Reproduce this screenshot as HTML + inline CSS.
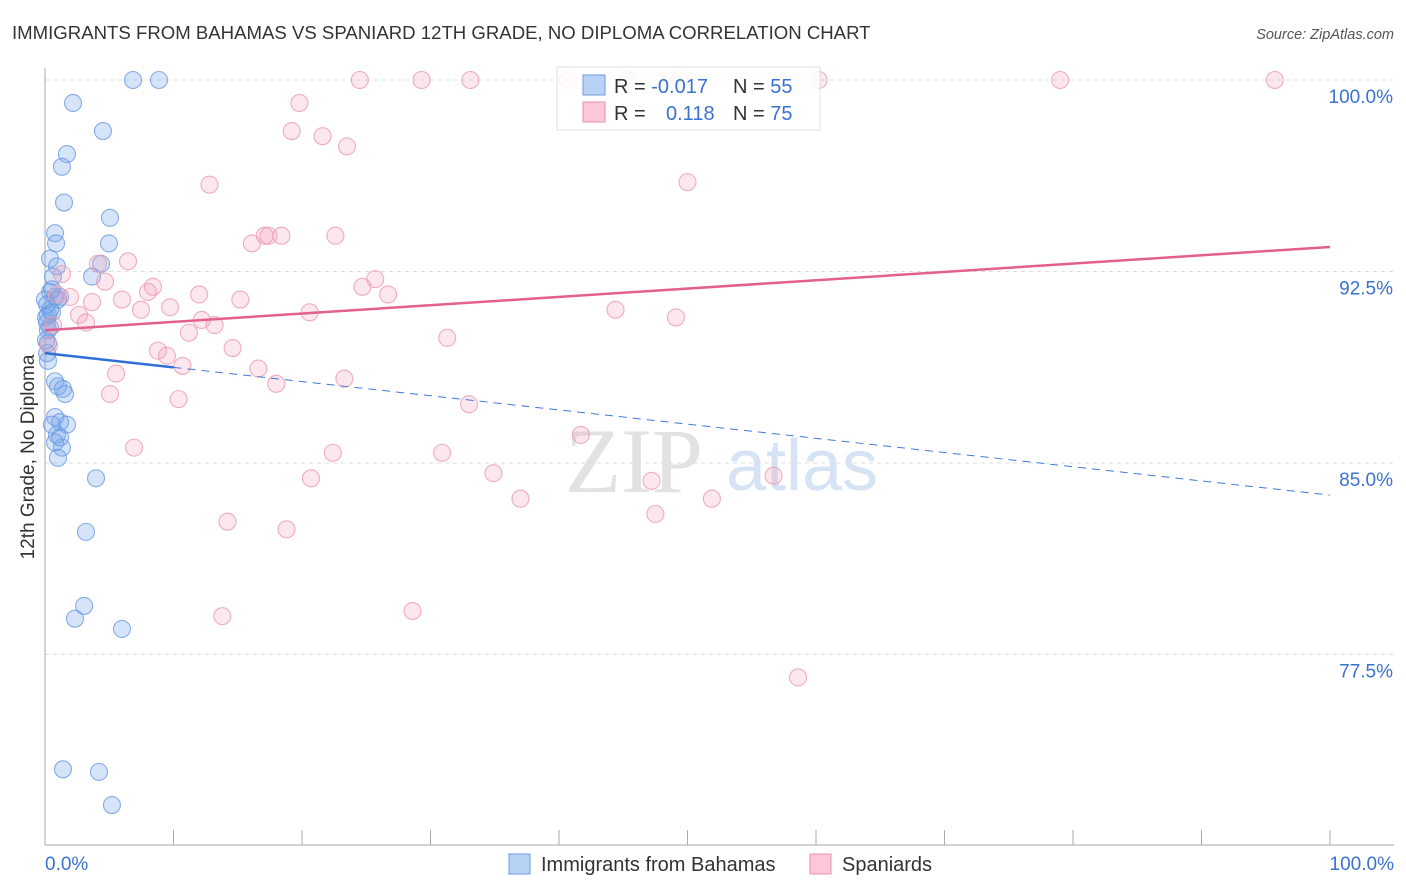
<!DOCTYPE html>
<html><head><meta charset="utf-8"><style>
body{margin:0;background:#fff;font-family:"Liberation Sans",sans-serif;}
svg{display:block}
</style></head><body>
<svg id="chart" width="1406" height="892" viewBox="0 0 1406 892">
<text x="12" y="39" font-size="18.6" fill="#333">IMMIGRANTS FROM BAHAMAS VS SPANIARD 12TH GRADE, NO DIPLOMA CORRELATION CHART</text>
<text x="1394" y="39" font-size="14.5" fill="#555" font-style="italic" text-anchor="end">Source: ZipAtlas.com</text>
<g>
<text x="634" y="492" font-size="92" fill="#e2e2e2" font-family="Liberation Serif,serif" text-anchor="middle">ZIP</text>
<text x="802" y="490" font-size="72" fill="#d6e3f5" text-anchor="middle">atlas</text>
</g>
<g id="grid"></g>
<g id="axes"></g>
<g id="blue"></g>
<g id="pink"></g>
<g id="trends"></g>
<text transform="translate(34,457) rotate(-90)" font-size="19" fill="#333" text-anchor="middle">12th Grade, No Diploma</text>
<text x="45" y="870" font-size="19" fill="#3a72d0">0.0%</text>
<text x="1394" y="870" font-size="19" fill="#3a72d0" text-anchor="end">100.0%</text>
<g>
<rect x="557" y="67" width="263" height="63" fill="#fff" stroke="#ddd" opacity="0.85"/>
<rect x="583" y="75" width="22" height="20" fill="#b8d2f5" stroke="#6b9be0"/>
<rect x="583" y="102" width="22" height="20" fill="#fbc8d8" stroke="#e891ab"/>
<text x="614" y="93" font-size="20" fill="#333">R = <tspan fill="#3a72d0">-0.017</tspan></text>
<text x="733" y="93" font-size="20" fill="#333">N = <tspan fill="#3a72d0">55</tspan></text>
<text x="614" y="120" font-size="20" fill="#333">R = </text>
<text x="666" y="120" font-size="20" fill="#3a72d0">0.118</text>
<text x="733" y="120" font-size="20" fill="#333">N = <tspan fill="#3a72d0">75</tspan></text>
</g>
<g>
<rect x="509" y="854" width="21" height="20" fill="#b8d2f5" stroke="#6b9be0"/>
<text x="541" y="871" font-size="20" fill="#333">Immigrants from Bahamas</text>
<rect x="810" y="854" width="21" height="20" fill="#fbc8d8" stroke="#e891ab"/>
<text x="842" y="871" font-size="20" fill="#333">Spaniards</text>
</g>
</svg>
<script>
const yTicks=[100,92.5,85,77.5];
const yTickLabels=["100.0%","92.5%","85.0%","77.5%"];
const blueX=[6.85,8.87,2.18,4.51,1.71,1.32,1.48,5.06,0.78,0.86,4.98,0.39,0.93,4.36,3.66,0.62,0.39,0.78,1.17,0.39,0.23,0.54,0.16,0.39,0.23,0.23,0.78,1.01,1.56,1.40,0.78,1.17,1.71,0.93,0.78,1.32,1.01,3.97,3.19,3.04,2.33,5.99,1.40,4.20,5.21,0.0,0.16,0.08,0.54,1.01,0.23,1.17,0.54,0.08,0.16];
const blueY=[100,100,99.1,98.0,97.1,96.6,95.2,94.6,94.0,93.6,93.6,93.0,92.7,92.8,92.3,92.3,91.7,91.5,91.5,91.0,90.8,90.9,90.5,90.3,89.7,89.0,88.2,88.0,87.7,87.9,86.8,86.6,86.5,86.1,85.8,85.6,85.2,84.4,82.3,79.4,78.9,78.5,73.0,72.9,71.6,91.4,91.2,90.7,91.8,91.4,90.2,86.0,86.5,89.8,89.3];
const pinkX=[24.5,29.3,33.1,40.7,45.3,49.4,60.2,79.0,95.7,19.8,19.2,21.6,23.5,12.8,50.0,22.6,16.1,17.1,17.4,18.4,6.46,4.12,1.32,4.67,8.02,8.40,25.7,24.7,26.7,12.0,15.2,5.99,3.66,1.95,9.73,7.47,44.4,49.1,20.6,2.65,3.19,12.2,13.2,11.2,31.3,14.6,8.79,9.49,10.7,16.6,5.53,23.3,18.0,5.06,10.4,33.0,41.7,6.93,22.4,30.9,34.9,20.7,47.2,56.7,37.0,51.9,47.5,14.2,18.8,28.6,13.8,58.6,0.62,0.93,0.31];
const pinkY=[100,100,100,100,100,100,100,100,100,99.1,98.0,97.8,97.4,95.9,96.0,93.9,93.6,93.9,93.9,93.9,92.9,92.8,92.4,92.1,91.7,91.9,92.2,91.9,91.6,91.6,91.4,91.4,91.3,91.5,91.1,91.0,91.0,90.7,90.9,90.8,90.5,90.6,90.4,90.1,89.9,89.5,89.4,89.2,88.8,88.7,88.5,88.3,88.1,87.7,87.5,87.3,86.1,85.6,85.4,85.4,84.6,84.4,84.3,84.5,83.6,83.6,83.0,82.7,82.4,79.2,79.0,76.6,90.4,91.6,89.6];
const blueTrend=[89.3,83.74];
const pinkTrend=[90.2,93.46];
const blueSolidEnd=10;

const NS="http://www.w3.org/2000/svg";
const X0=45,X1=1330,Y100=80,PXPER=25.53;
function sx(v){return X0+(X1-X0)*v/100;}
function sy(v){return Y100+(100-v)*PXPER;}
function mk(tag,attrs,parent){const e=document.createElementNS(NS,tag);for(const k in attrs)e.setAttribute(k,attrs[k]);parent.appendChild(e);return e;}
const grid=document.getElementById('grid'),axes=document.getElementById('axes');
yTicks.forEach((t,i)=>{
 const l=mk('line',{x1:X0,x2:1394,y1:sy(t),y2:sy(t),stroke:'#ddd','stroke-dasharray':'4,4'},grid);
 
 
 const tx=mk('text',{x:1393,y:sy(t)+23,'font-size':19,fill:'#3a72d0','text-anchor':'end'},grid);
 tx.textContent=yTickLabels[i];
 
 
});
let a=mk('line',{x1:X0,x2:X0,y1:68,y2:845,stroke:'#aaa'},axes);


a=mk('line',{x1:X0,x2:1394,y1:845,y2:845,stroke:'#aaa'},axes);


for(let i=0;i<=10;i++){
 const t=mk('line',{x1:sx(i*10),x2:sx(i*10),y1:830,y2:845,stroke:'#aaa'},axes);
 
 
}
function dots(xs,ys,g,fill,stroke,name){
 xs.forEach((x,i)=>{
  const c=mk('circle',{cx:sx(x),cy:sy(ys[i]),r:8.5,fill:fill,stroke:stroke,'stroke-width':1.1,'stroke-opacity':0.8},g);
  
  
 });
}
dots(blueX,blueY,document.getElementById('blue'),'rgba(120,165,235,0.3)','#6b9be0','bahamas-point');
dots(pinkX,pinkY,document.getElementById('pink'),'rgba(245,160,185,0.25)','#eb9ab3','spaniards-point');
const tr=document.getElementById('trends');
function lineAt(tr2,x){return tr2[0]+(tr2[1]-tr2[0])*x/100;}
let l=mk('line',{x1:sx(0),y1:sy(pinkTrend[0]),x2:sx(100),y2:sy(pinkTrend[1]),stroke:'#e3608c','stroke-width':2.5},tr);


l=mk('line',{x1:sx(0),y1:sy(blueTrend[0]),x2:sx(blueSolidEnd),y2:sy(lineAt(blueTrend,blueSolidEnd)),stroke:'#2f6fd6','stroke-width':2.5},tr);


l=mk('line',{x1:sx(blueSolidEnd),y1:sy(lineAt(blueTrend,blueSolidEnd)),x2:sx(100),y2:sy(blueTrend[1]),stroke:'#3f7ad8','stroke-width':1,'stroke-dasharray':'8,6'},tr);


</script>
</body></html>
